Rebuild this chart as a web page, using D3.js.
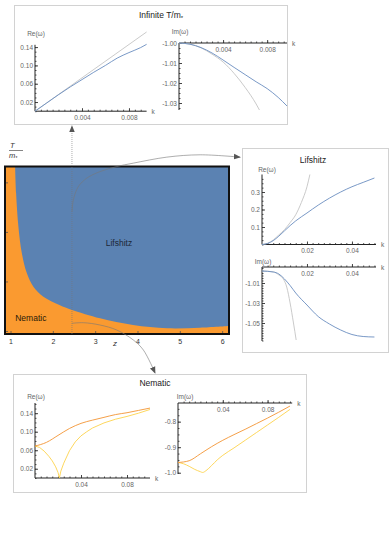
<!DOCTYPE html>
<html>
<head>
<meta charset="utf-8">
<script src="https://d3js.org/d3.v7.min.js"></script>
<style>
  body { margin: 0; background: #fff; }
  text { font-family: "Liberation Sans", Arial, sans-serif; }
</style>
</head>
<body>
<div id="chart"></div>
<script>
// ---- phase diagram (z vs T/m*) ----
var bndZ = [1.097, 1.120, 1.175, 1.255, 1.373, 1.529, 1.765, 2.143, 2.443, 3.104, 3.884, 4.687, 5.466, 6.15];
var bndT = [3.325, 2.795, 2.115, 1.584, 1.180, 0.904, 0.702, 0.535, 0.434, 0.266, 0.131, 0.065, 0.077, 0.111];
var mainZTicks = [1, 2, 3, 4, 5, 6];
var mainTTicks = [0, 1, 2, 3];
var probeZ = 2.44;

// connectors (in z, T/m* coordinates)
var lifConnZ = [2.442, 2.473, 2.591, 2.79, 3.104, 3.499, 3.891, 4.681, 5.468, 6.414];
var lifConnT = [2.42, 2.657, 2.925, 3.095, 3.228, 3.329, 3.398, 3.519, 3.566, 3.519];
var nemConnZ = [2.442, 2.709, 3.104, 3.499, 3.891, 4.128, 4.404];
var nemConnT = [0.166, 0.178, 0.131, 0.030, -0.172, -0.374, -0.838];
var topArrowT = [-0.05, 4.15];

// ---- infinite T/m* ----
var infReK    = [0, 0.001, 0.002, 0.003, 0.004, 0.005, 0.006, 0.007, 0.008, 0.009, 0.0095];
var infReBlue = [0, 0.018, 0.036, 0.053, 0.069, 0.085, 0.100, 0.116, 0.128, 0.139, 0.146];
var infReGrayK = [0, 0.0095];
var infReGray  = [0, 0.173];
var infImK    = [0, 0.001, 0.002, 0.003, 0.004, 0.005, 0.006, 0.007, 0.008, 0.009, 0.0098];
var infImBlue = [-1.0, -1.0006, -1.0023, -1.005, -1.0085, -1.0122, -1.0158, -1.0194, -1.0228, -1.0272, -1.0315];
var infImGrayK = [0, 0.001, 0.002, 0.003, 0.004, 0.005, 0.006, 0.007, 0.0073];
var infImGray  = [-1.0, -1.0006, -1.0024, -1.0056, -1.0095, -1.0152, -1.0222, -1.0305, -1.0335];

// ---- Lifshitz ----
var lifReK    = [0, 0.0025, 0.005, 0.0075, 0.01, 0.0125, 0.015, 0.02, 0.025, 0.03, 0.035, 0.04, 0.045, 0.05];
var lifReBlue = [0, 0.006, 0.022, 0.048, 0.078, 0.108, 0.135, 0.18, 0.225, 0.265, 0.30, 0.33, 0.355, 0.38];
var lifReGrayK = [0, 0.0025, 0.005, 0.0075, 0.01, 0.0125, 0.015, 0.0175, 0.02, 0.0213];
var lifReGray  = [0, 0.007, 0.026, 0.055, 0.085, 0.125, 0.17, 0.24, 0.33, 0.40];
var lifImK    = [0, 0.005, 0.0075, 0.01, 0.0125, 0.015, 0.02, 0.025, 0.03, 0.035, 0.04, 0.045, 0.05];
var lifImBlue = [-0.998, -0.999, -1.001, -1.006, -1.0125, -1.020, -1.032, -1.0435, -1.051, -1.057, -1.0615, -1.0635, -1.064];
var lifImGrayK = [0, 0.005, 0.0075, 0.0095, 0.011, 0.0125, 0.014, 0.0152];
var lifImGray  = [-0.998, -0.9988, -1.002, -1.006, -1.014, -1.030, -1.050, -1.067];

// ---- Nematic ----
var nemReK      = [0, 0.01, 0.02, 0.03, 0.04, 0.05, 0.06, 0.07, 0.08, 0.09, 0.1];
var nemReOrange = [0.069, 0.077, 0.092, 0.107, 0.118, 0.125, 0.131, 0.137, 0.141, 0.146, 0.151];
var nemReYK     = [0, 0.004, 0.008, 0.012, 0.015, 0.018, 0.02, 0.0212, 0.0225, 0.025, 0.03, 0.035, 0.04, 0.045, 0.05, 0.06, 0.07, 0.08, 0.09, 0.1];
var nemReYellow = [0.069, 0.066, 0.058, 0.047, 0.037, 0.024, 0.012, 0.0, 0.015, 0.032, 0.059, 0.078, 0.091, 0.100, 0.108, 0.119, 0.127, 0.133, 0.140, 0.148];
var nemImK      = [0, 0.01, 0.02, 0.03, 0.04, 0.05, 0.06, 0.07, 0.08, 0.09, 0.1];
var nemImOrange = [-0.960, -0.953, -0.926, -0.898, -0.873, -0.851, -0.830, -0.808, -0.786, -0.763, -0.739];
var nemImYK     = [0, 0.005, 0.01, 0.015, 0.02, 0.022, 0.025, 0.03, 0.035, 0.04, 0.05, 0.06, 0.07, 0.08, 0.09, 0.1];
var nemImYellow = [-0.960, -0.965, -0.975, -0.987, -0.996, -0.999, -0.992, -0.972, -0.950, -0.932, -0.903, -0.873, -0.843, -0.813, -0.783, -0.752];

var blueLine = "#6a8dc0", grayLine = "#c4c4c4", orangeLine = "#f39433", yellowLine = "#fdd24c";

var svg = d3.select("#chart").append("svg")
    .attr("width", 391)
    .attr("height", 539);

svg.append("defs").append("marker")
    .attr("id", "arr")
    .attr("viewBox", "0 0 10 10")
    .attr("refX", 9).attr("refY", 5)
    .attr("markerWidth", 7).attr("markerHeight", 7)
    .attr("markerUnits", "userSpaceOnUse")
    .attr("orient", "auto")
  .append("path")
    .attr("d", "M0,1L10,5L0,9Z")
    .attr("fill", "#555");

function zip(a, b) { return a.map(function(d, i) { return [d, b[i]]; }); }

function box(x0, y0, x1, y1) {
  svg.append("rect")
    .attr("x", x0 + 0.5).attr("y", y0 + 0.5)
    .attr("width", x1 - x0).attr("height", y1 - y0)
    .attr("fill", "#fff")
    .attr("stroke", "#d2d2d2");
}

function title(x, y, txt, sub) {
  var t = svg.append("text")
    .attr("x", x).attr("y", y)
    .attr("text-anchor", "middle")
    .style("font-size", "8.5px")
    .style("fill", "#222")
    .text(txt);
  if (sub) t.append("tspan").attr("dy", 2).style("font-size", "6px").text(sub);
}

function inset(p) {
  var g = svg.append("g");
  var x = d3.scaleLinear().domain(p.kd).range(p.kr);
  var y = d3.scaleLinear().domain(p.vd).range(p.vr);
  var ay = y(p.axisV);

  // minor ticks
  var xm = d3.range(p.xMinor, p.kd[1], p.xMinor);
  g.append("g").attr("transform", "translate(0," + ay + ")")
    .call(d3.axisBottom(x).tickValues(xm).tickSize(-1.5).tickFormat(""))
    .call(function(s) { s.select(".domain").remove(); s.selectAll("line").attr("stroke", "#555"); });
  var ym = d3.range(Math.ceil(p.vd[0] / p.yMinor) * p.yMinor, p.vd[1], p.yMinor);
  g.append("g").attr("transform", "translate(" + x(0) + ",0)")
    .call(d3.axisLeft(y).tickValues(ym).tickSize(-1.5).tickFormat(""))
    .call(function(s) { s.select(".domain").remove(); s.selectAll("line").attr("stroke", "#555"); });

  // major ticks + labels
  g.append("g").attr("transform", "translate(0," + ay + ")")
    .call(d3.axisBottom(x).tickValues(p.xTicks).tickSize(-3).tickPadding(4).tickFormat(function(d) { return d.toFixed(p.xDec); }))
    .call(function(s) {
      s.select(".domain").remove();
      s.selectAll("line").attr("stroke", "#444");
      s.selectAll("text").style("font-size", "6.5px").style("fill", "#666").style("font-family", "Liberation Sans, Arial, sans-serif");
    });
  g.append("g").attr("transform", "translate(" + x(0) + ",0)")
    .call(d3.axisLeft(y).tickValues(p.yTicks).tickSize(-3).tickPadding(2).tickFormat(function(d) { return d.toFixed(p.yDec); }))
    .call(function(s) {
      s.select(".domain").remove();
      s.selectAll("line").attr("stroke", "#444");
      s.selectAll("text").style("font-size", "6.5px").style("fill", "#666").style("font-family", "Liberation Sans, Arial, sans-serif");
    });

  // axis lines
  g.append("line")
    .attr("x1", x(p.kd[0])).attr("x2", x(p.kd[1]))
    .attr("y1", ay).attr("y2", ay)
    .attr("stroke", "#222").attr("stroke-width", 1);
  g.append("line")
    .attr("x1", x(0)).attr("x2", x(0))
    .attr("y1", y(p.vd[0])).attr("y2", y(p.vd[1]))
    .attr("stroke", "#222").attr("stroke-width", 1);

  g.append("text")
    .attr("x", x(p.kd[1]) + 5).attr("y", ay + 2.5)
    .style("font-size", "6.5px").style("fill", "#666")
    .text("k");
  g.append("text")
    .attr("x", x(0) + p.lab[0]).attr("y", p.lab[1])
    .attr("text-anchor", "middle")
    .style("font-size", "6.5px").style("fill", "#666")
    .text(p.label);

  p.series.forEach(function(s) {
    g.append("path")
      .datum(zip(s.k, s.v))
      .attr("d", d3.line()
        .curve(s.linear ? d3.curveLinear : d3.curveMonotoneX)
        .x(function(d) { return x(d[0]); })
        .y(function(d) { return y(d[1]); }))
      .attr("fill", "none")
      .attr("stroke", s.c)
      .attr("stroke-width", 0.9);
  });
}

// ---------- inset boxes ----------
box(14, 5, 287, 124);
title(161, 18, "Infinite T/m", "*");
inset({
  kd: [0, 0.0095], kr: [35, 146.6], vd: [0, 0.145], vr: [111.2, 44.8], axisV: 0,
  xTicks: [0.004, 0.008], xMinor: 0.0005, xDec: 3,
  yTicks: [0.02, 0.06, 0.10, 0.14], yMinor: 0.01, yDec: 2,
  label: "Re(\u03c9)", lab: [1, 36],
  series: [{k: infReGrayK, v: infReGray, c: grayLine, linear: true}, {k: infReK, v: infReBlue, c: blueLine}]
});
inset({
  kd: [0, 0.0098], kr: [179, 287], vd: [-1.0335, -1.0], vr: [110, 43], axisV: -1.0,
  xTicks: [0.004, 0.008], xMinor: 0.0005, xDec: 3,
  yTicks: [-1.00, -1.01, -1.02, -1.03], yMinor: 0.0025, yDec: 2,
  label: "Im(\u03c9)", lab: [1, 34],
  series: [{k: infImGrayK, v: infImGray, c: grayLine}, {k: infImK, v: infImBlue, c: blueLine}]
});

box(242, 148, 388, 352);
title(313, 163, "Lifshitz");
inset({
  kd: [0, 0.0507], kr: [262, 376], vd: [0, 0.40], vr: [244.5, 174.5], axisV: 0,
  xTicks: [0.02, 0.04], xMinor: 0.0025, xDec: 2,
  yTicks: [0.1, 0.2, 0.3], yMinor: 0.025, yDec: 1,
  label: "Re(\u03c9)", lab: [5, 172],
  series: [{k: lifReGrayK, v: lifReGray, c: grayLine}, {k: lifReK, v: lifReBlue, c: blueLine}]
});
inset({
  kd: [0, 0.0507], kr: [262, 376], vd: [-1.068, -0.994], vr: [341, 267], axisV: -0.994,
  xTicks: [0.02, 0.04], xMinor: 0.0025, xDec: 2,
  yTicks: [-1.01, -1.03, -1.05], yMinor: 0.0025, yDec: 2,
  label: "Im(\u03c9)", lab: [1, 264],
  series: [{k: lifImGrayK, v: lifImGray, c: grayLine}, {k: lifImK, v: lifImBlue, c: blueLine}]
});

box(13, 374, 306, 492);
title(155, 386, "Nematic");
inset({
  kd: [0, 0.1], kr: [35, 150], vd: [0, 0.162], vr: [478, 403], axisV: 0,
  xTicks: [0.04, 0.08], xMinor: 0.005, xDec: 2,
  yTicks: [0.02, 0.06, 0.10, 0.14], yMinor: 0.01, yDec: 2,
  label: "Re(\u03c9)", lab: [1, 399],
  series: [{k: nemReYK, v: nemReYellow, c: yellowLine, linear: true}, {k: nemReK, v: nemReOrange, c: orangeLine}]
});
inset({
  kd: [0, 0.102], kr: [178, 292.2], vd: [-1.005, -0.727], vr: [474, 403], axisV: -0.727,
  xTicks: [0.04, 0.08], xMinor: 0.005, xDec: 2,
  yTicks: [-0.8, -0.9, -1.0], yMinor: 0.025, yDec: 1,
  label: "Im(\u03c9)", lab: [7, 399],
  series: [{k: nemImYK, v: nemImYellow, c: yellowLine}, {k: nemImK, v: nemImOrange, c: orangeLine}]
});

// ---------- main phase diagram ----------
var zDom = [0.858, 6.15], tDom = [-0.05, 3.33];
var zS = d3.scaleLinear().domain(zDom).range([5, 229]);
var tS = d3.scaleLinear().domain(tDom).range([334, 166.5]);
var mg = svg.append("g");

mg.append("rect")
  .attr("x", zS(zDom[0])).attr("y", tS(tDom[1]))
  .attr("width", zS(zDom[1]) - zS(zDom[0])).attr("height", tS(tDom[0]) - tS(tDom[1]))
  .attr("fill", "#5b82b2");

// nematic region: smooth boundary, then close along the frame
var bndPath = d3.line()
  .curve(d3.curveCatmullRom.alpha(0.5))
  .x(function(d) { return zS(d[0]); })
  .y(function(d) { return tS(d[1]); })(zip(bndZ, bndT));
mg.append("path")
  .attr("d", bndPath +
    "L" + zS(zDom[1]) + "," + tS(tDom[0]) +
    "L" + zS(zDom[0]) + "," + tS(tDom[0]) +
    "L" + zS(zDom[0]) + "," + tS(tDom[1]) + "Z")
  .attr("fill", "#fa9a30");

// small ticks inside the frame
mg.selectAll(".zt").data(mainZTicks).enter().append("line")
  .attr("x1", function(d) { return zS(d); }).attr("x2", function(d) { return zS(d); })
  .attr("y1", tS(tDom[0])).attr("y2", tS(tDom[0]) - 3)
  .attr("stroke", "#555").attr("stroke-width", 0.8);
mg.selectAll(".tt").data(mainTTicks).enter().append("line")
  .attr("x1", zS(zDom[0])).attr("x2", zS(zDom[0]) + 3)
  .attr("y1", function(d) { return tS(d); }).attr("y2", function(d) { return tS(d); })
  .attr("stroke", "#555").attr("stroke-width", 0.8);

mg.selectAll(".zl").data(mainZTicks).enter().append("text")
  .attr("x", function(d) { return zS(d); })
  .attr("y", tS(tDom[0]) + 10)
  .attr("text-anchor", "middle")
  .style("font-size", "7px").style("fill", "#333")
  .text(function(d) { return d; });

mg.append("text").attr("x", 113).attr("y", 346)
  .style("font-size", "8px").style("font-style", "italic").style("fill", "#333").text("z");

// T/m* fraction label
mg.append("text").attr("x", 10).attr("y", 148)
  .style("font-size", "7.5px").style("font-style", "italic").style("fill", "#333").text("T");
mg.append("line").attr("x1", 9).attr("x2", 23).attr("y1", 150.5).attr("y2", 150.5)
  .attr("stroke", "#333").attr("stroke-width", 0.6);
mg.append("text").attr("x", 9).attr("y", 158)
  .style("font-size", "7.5px").style("font-style", "italic").style("fill", "#333")
  .text("m").append("tspan").attr("dy", 1.5).style("font-size", "5px").text("*");

mg.append("text").attr("x", zS(3.55)).attr("y", tS(1.72))
  .attr("text-anchor", "middle")
  .style("font-size", "8.5px").style("fill", "#1c2838").text("Lifshitz");
mg.append("text").attr("x", zS(1.1)).attr("y", tS(0.21))
  .style("font-size", "8.5px").style("fill", "#2a1a08").text("Nematic");

// connectors
var connLine = d3.line()
  .curve(d3.curveCatmullRom)
  .x(function(d) { return zS(d[0]); })
  .y(function(d) { return tS(d[1]); });

svg.append("path")
  .datum(zip([probeZ, probeZ], topArrowT))
  .attr("d", connLine)
  .attr("fill", "none")
  .attr("stroke", "#777").attr("stroke-width", 0.6)
  .attr("stroke-dasharray", "1,1")
  .attr("marker-end", "url(#arr)");
svg.append("path")
  .datum(zip(lifConnZ, lifConnT))
  .attr("d", connLine)
  .attr("fill", "none")
  .attr("stroke", "#777").attr("stroke-width", 0.6)
  .attr("marker-end", "url(#arr)");
svg.append("path")
  .datum(zip(nemConnZ, nemConnT))
  .attr("d", connLine)
  .attr("fill", "none")
  .attr("stroke", "#777").attr("stroke-width", 0.6)
  .attr("marker-end", "url(#arr)");

// frame on top
mg.append("rect")
  .attr("x", zS(zDom[0])).attr("y", tS(tDom[1]))
  .attr("width", zS(zDom[1]) - zS(zDom[0])).attr("height", tS(tDom[0]) - tS(tDom[1]))
  .attr("fill", "none")
  .attr("stroke", "#111").attr("stroke-width", 2);
</script>
</body>
</html>
